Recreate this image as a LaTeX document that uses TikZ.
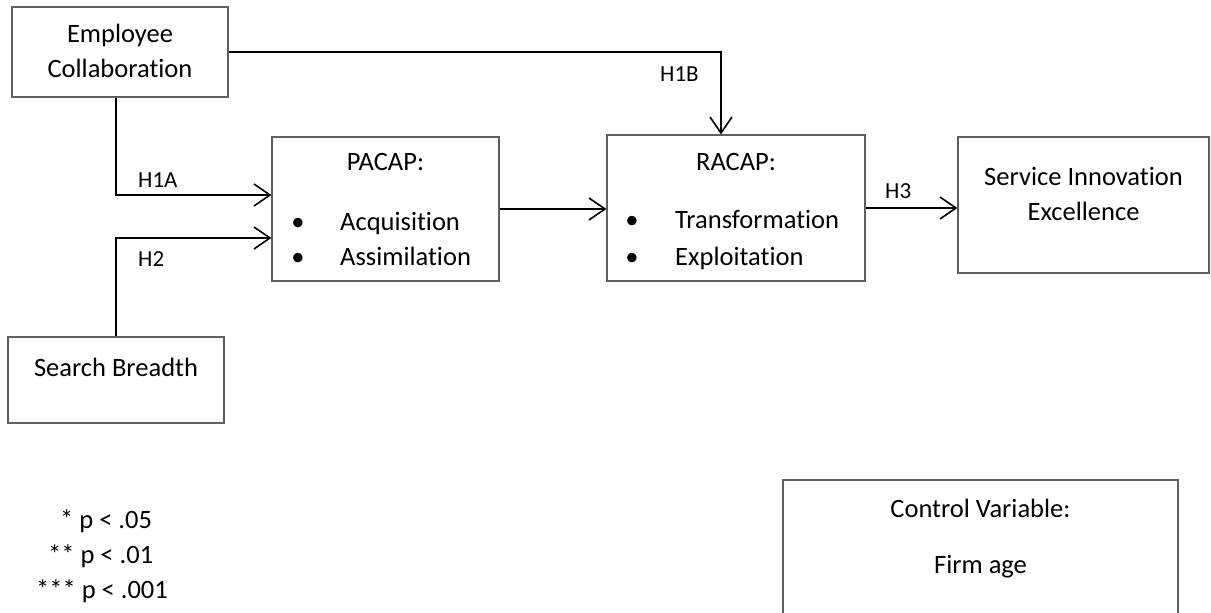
\documentclass[tikz,border=0pt]{standalone}
\usepackage{fontspec}
\setmainfont{Carlito}[Ligatures={NoCommon}]
\usetikzlibrary{arrows.meta,calc}
\definecolor{boxgray}{RGB}{95,95,95}
\begin{document}
\begin{tikzpicture}[x=1pt,y=-1pt,
  box/.style={draw=boxgray,line width=1.2pt,inner sep=0pt,fill=none},
  txt/.style={inner sep=0pt,anchor=base,font=\fontsize{26.5}{35}\selectfont},
  lbl/.style={inner sep=0pt,anchor=base west,font=\fontsize{23}{28}\selectfont},
  conn/.style={line width=1.6pt,-{Straight Barb[length=16pt,width=22pt,line width=1.6pt]}}]
\useasboundingbox (0,0) rectangle (1211,613);
\clip (0,0) rectangle (1211,613);
% boxes
\node[box,minimum width=216pt,minimum height=90pt] (EC) at (120,52) {};
\node[box,minimum width=227pt,minimum height=144pt] (PACAP) at (385.5,209) {};
\node[box,minimum width=258pt,minimum height=146pt] (RACAP) at (736,208) {};
\node[box,minimum width=251pt,minimum height=136pt] (SIE) at (1083.5,205) {};
\node[box,minimum width=216pt,minimum height=86pt] (SB) at (116,380) {};
\node[box,minimum width=395pt,minimum height=144pt] (CV) at (980.5,552) {};
% texts
\node[txt] (ec1) at (120,42.7) {Employee};
\node[txt] (ec2) at (120,77) {Collaboration};
\node[txt] (pa0) at (385.5,170) {PACAP:};
\node[txt] (pb1) at (298,230) {•};
\node[txt] (pb2) at (298,265.7) {•};
\node[txt,anchor=base west] (pa1) at (340,230) {Acquisition};
\node[txt,anchor=base west] (pa2) at (340,265.7) {Assimilation};
\node[txt] (ra0) at (736,170) {RACAP:};
\node[txt] (rb1) at (632,228) {•};
\node[txt] (rb2) at (632,265) {•};
\node[txt,anchor=base west] (ra1) at (675,228) {Transformation};
\node[txt,anchor=base west] (ra2) at (675,265) {Exploitation};
\node[txt] (si1) at (1083.5,185) {Service Innovation};
\node[txt] (si2) at (1083.5,220) {Excellence};
\node[txt] (sb1) at (116,376.7) {Search Breadth};
\node[txt] (cv1) at (980.5,517) {Control Variable:};
\node[txt] (cv2) at (980.5,573) {Firm age};
\node[txt,anchor=base west] (p1) at (60,528) {* p < .05};
\node[txt,anchor=base west] (p2) at (48,563) {** p < .01};
\node[txt,anchor=base west] (p3) at (36,598) {*** p < .001};
% labels
\node[lbl] (h1a) at (138,187) {H1A};
\node[lbl] (h1b) at (660,81) {H1B};
\node[lbl] (h2) at (138,266) {H2};
\node[lbl] (h3) at (885,198) {H3};
% connectors
\draw[conn] (EC.east) -| ([xshift=-15pt]RACAP.north);
\draw[conn] ([xshift=-4pt]EC.south) |- ([yshift=14pt]PACAP.west);
\draw[conn] (SB.north) |- ([yshift=-29pt]PACAP.west);
\draw[conn] (PACAP.east) -- (PACAP.east -| RACAP.west);
\draw[conn] (RACAP.east) -- (RACAP.east -| SIE.west);
\end{tikzpicture}
\end{document}
